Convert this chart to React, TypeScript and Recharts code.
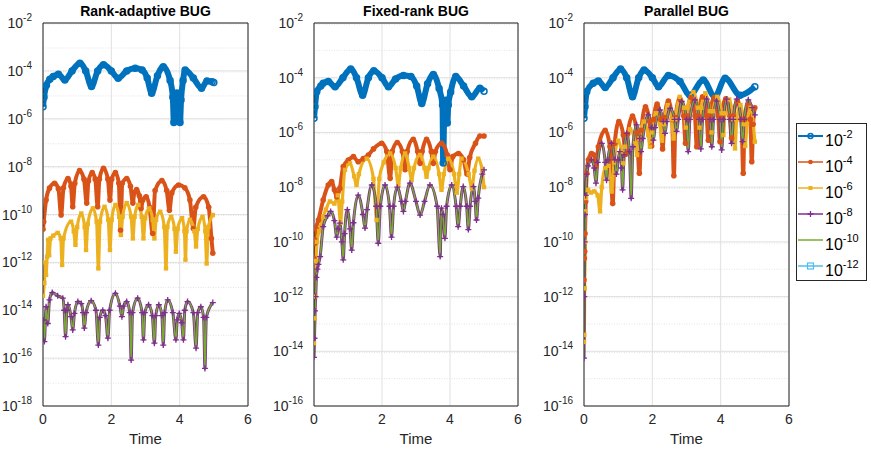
import { LineChart, Line, XAxis, YAxis, CartesianGrid, ReferenceLine } from 'recharts';

// [time, error] pairs
type Pt = [number, number];

const tolExponents = ['-2', '-4', '-6', '-8', '-10', '-12'];
const colors = ['#0072BD', '#D95319', '#EDB120', '#7E2F8E', '#77AC30', '#4DBEEE'];
const timeTicks = [0, 2, 4, 6];
const rankTicks = [1e-18, 1e-16, 1e-14, 1e-12, 1e-10, 1e-8, 1e-6, 1e-4, 1e-2];
const otherTicks = [1e-16, 1e-14, 1e-12, 1e-10, 1e-8, 1e-6, 1e-4, 1e-2];

// ---- Rank-adaptive BUG ----
const rankTol2: Pt[] = [
    [0, 3.2e-6], [0.03, 8e-6], [0.1, 2.5e-5], [0.2, 4.5e-5], [0.3, 5.8e-5], [0.45, 7.2e-5], [0.64, 4.2e-5],
    [0.85, 1e-4], [1.08, 2.1e-4], [1.25, 1e-4], [1.42, 2.2e-5], [1.6, 1e-4], [1.77, 1.8e-4], [2.0, 1e-4],
    [2.2, 4.9e-5], [2.45, 1e-4], [2.7, 1.3e-4], [2.9, 1.1e-4], [3.05, 5e-5], [3.18, 1.15e-5], [3.35, 6.3e-5],
    [3.52, 1.5e-4], [3.72, 4e-5], [3.8, 8e-6], [3.83, 7e-7], [3.86, 5e-6], [3.92, 1.2e-5], [3.97, 4e-6],
    [4.01, 7e-7], [4.04, 6e-6], [4.1, 4e-5], [4.16, 1.1e-4], [4.4, 5e-5], [4.64, 1.9e-5], [4.8, 3.8e-5],
    [4.95, 3.5e-5], [5.0, 3.3e-5],
];
const rankTol4: Pt[] = [
    [0, 2.4e-11], [0.02, 5e-11], [0.09, 4e-10], [0.19, 1.26e-9], [0.34, 2e-9], [0.45, 1.2e-9], [0.53, 9.5e-11],
    [0.6, 1.3e-9], [0.73, 3.2e-9], [0.82, 1.5e-9], [0.87, 2.1e-10], [0.93, 2e-9], [1.07, 6.8e-9], [1.2, 3e-9],
    [1.28, 3e-10], [1.33, 2.5e-9], [1.44, 5.6e-9], [1.53, 3e-9], [1.6, 2.1e-10], [1.65, 3e-9], [1.77, 8.5e-9],
    [1.9, 3e-9], [1.96, 4e-10], [2.01, 3e-9], [2.12, 5.6e-9], [2.22, 2e-9], [2.27, 2.2e-11], [2.32, 2e-9],
    [2.45, 3.2e-9], [2.56, 1.5e-9], [2.63, 3e-10], [2.67, 8e-10], [2.74, 1.1e-9], [2.82, 6e-10], [2.87, 1.8e-10],
    [2.92, 4e-10], [3.02, 5.5e-10], [3.12, 2e-10], [3.21, 1.6e-11], [3.28, 1e-9], [3.48, 2.6e-9], [3.62, 1e-9],
    [3.7, 1.5e-10], [3.77, 8e-10], [3.97, 1.7e-9], [4.15, 1.3e-9], [4.3, 4e-10], [4.4, 2.6e-11], [4.47, 2e-10],
    [4.7, 5.5e-10], [4.85, 2e-10], [4.93, 1e-11], [4.97, 2.4e-12],
];
const rankTol6: Pt[] = [
    [0, 4e-14], [0.04, 1.4e-13], [0.07, 1e-12], [0.09, 3e-13], [0.12, 1.7e-12], [0.15, 8.7e-12], [0.18, 2e-12],
    [0.22, 1e-11], [0.3, 1.3e-11], [0.43, 1.7e-11], [0.52, 1e-11], [0.56, 7.8e-13], [0.6, 1e-11], [0.82, 5e-11],
    [0.9, 2e-11], [0.95, 5.4e-12], [1.0, 3e-11], [1.12, 1.1e-10], [1.22, 3e-11], [1.26, 3.3e-12], [1.31, 4e-11],
    [1.46, 1.8e-10], [1.57, 5e-11], [1.62, 5.6e-13], [1.67, 5e-11], [1.8, 2.1e-10], [1.91, 6e-11], [1.96, 3.3e-12],
    [2.01, 6e-11], [2.12, 2.5e-10], [2.23, 8e-11], [2.28, 1.4e-11], [2.33, 8e-11], [2.45, 3e-10], [2.58, 8e-11],
    [2.63, 1e-11], [2.68, 8e-11], [2.79, 2.5e-10], [2.89, 8e-11], [2.94, 1e-11], [2.99, 7e-11], [3.11, 1.8e-10],
    [3.21, 6e-11], [3.26, 1e-11], [3.31, 6e-11], [3.43, 1.3e-10], [3.55, 3e-11], [3.6, 5.6e-13], [3.64, 3e-11],
    [3.75, 8e-11], [3.85, 2.5e-11], [3.89, 2.8e-12], [3.94, 2.5e-11], [4.07, 7e-11], [4.14, 2e-11], [4.17, 1.3e-12],
    [4.2, 2e-11], [4.3, 6e-11], [4.43, 2e-11], [4.48, 4.6e-12], [4.53, 2.5e-11], [4.67, 8e-11], [4.75, 2e-11],
    [4.79, 9e-13], [4.84, 3e-11], [4.97, 9.5e-11],
];
const rankTol8: Pt[] = [
    [0, 4e-15], [0.015, 3.9e-15], [0.04, 4.9e-16], [0.09, 1.4e-14], [0.14, 2.8e-15], [0.19, 2.7e-14], [0.27, 5.5e-14],
    [0.43, 4e-14], [0.58, 3.2e-14], [0.62, 1e-14], [0.66, 7.9e-16], [0.7, 1e-14], [0.73, 1.7e-14], [0.82, 5.4e-15],
    [0.87, 1.5e-15], [0.92, 7.4e-15], [1.02, 2.3e-14], [1.12, 1.9e-14], [1.17, 8e-15], [1.21, 1.8e-15], [1.26, 8e-15],
    [1.41, 2.5e-14], [1.55, 1e-14], [1.62, 3.5e-16], [1.66, 5e-15], [1.75, 1e-14], [1.83, 6e-15], [1.9, 6.8e-16],
    [1.95, 1e-14], [2.12, 5.1e-14], [2.25, 1.5e-14], [2.31, 5.4e-15], [2.36, 1.5e-14], [2.45, 2.3e-14], [2.54, 8e-15],
    [2.58, 8.3e-17], [2.62, 8e-15], [2.77, 3.2e-14], [2.9, 8e-15], [2.94, 5.8e-16], [2.98, 8e-15], [3.09, 1.7e-14],
    [3.2, 6e-15], [3.26, 4.2e-16], [3.3, 6e-15], [3.39, 1.7e-14], [3.48, 6e-15], [3.52, 3.5e-16], [3.56, 8e-15],
    [3.65, 2.7e-14], [3.8, 8e-15], [3.89, 5.8e-16], [3.93, 4e-15], [3.99, 7.4e-15], [4.06, 3e-15], [4.11, 5.8e-16],
    [4.15, 1e-14], [4.23, 2.3e-14], [4.4, 8e-15], [4.48, 2.6e-16], [4.53, 8e-15], [4.62, 1.4e-14], [4.7, 5e-15],
    [4.74, 3.7e-17], [4.78, 5e-15], [4.97, 2.1e-14],
];
const rankTol10 = rankTol8; // 1e-10 sits exactly on top of 1e-8

// ---- Fixed-rank BUG ----
const fixedTol2: Pt[] = [
    [0, 3.3e-6], [0.03, 8.7e-6], [0.08, 3.1e-5], [0.2, 5e-5], [0.27, 6.3e-5], [0.42, 7.2e-5], [0.62, 4.7e-5],
    [0.85, 1e-4], [1.08, 2.1e-4], [1.25, 1e-4], [1.43, 2.3e-5], [1.6, 1e-4], [1.76, 1.8e-4], [2.0, 1e-4],
    [2.19, 4.7e-5], [2.4, 9e-5], [2.63, 1.2e-4], [2.85, 1.1e-4], [3.02, 5e-5], [3.17, 1.15e-5], [3.34, 6e-5],
    [3.51, 1.3e-4], [3.68, 4e-5], [3.78, 1e-5], [3.8, 7.6e-8], [3.83, 5e-6], [3.88, 1.5e-5], [3.92, 2.2e-6],
    [3.95, 1e-5], [4.02, 3e-5], [4.17, 1.1e-4], [4.4, 5e-5], [4.64, 2e-5], [4.88, 4.1e-5], [5.0, 3.2e-5],
];
const fixedTol4: Pt[] = [
    [0, 2.5e-11], [0.02, 1.2e-10], [0.03, 9e-11], [0.06, 3e-10], [0.13, 6.3e-10], [0.27, 3.4e-9], [0.42, 1.2e-8],
    [0.52, 1.6e-8], [0.6, 8e-9], [0.67, 4.5e-9], [0.76, 9e-9], [0.86, 5.6e-8], [1.01, 9.8e-8], [1.16, 1.3e-7],
    [1.3, 8.5e-8], [1.45, 1.1e-7], [1.6, 1.5e-7], [1.75, 2.5e-7], [1.99, 4e-7], [2.14, 2e-7], [2.24, 2.1e-8],
    [2.3, 2e-7], [2.45, 4.3e-7], [2.6, 2e-7], [2.68, 4.3e-8], [2.74, 2e-7], [2.92, 5.6e-7], [3.05, 2e-7],
    [3.12, 7.4e-8], [3.18, 2e-7], [3.31, 5.6e-7], [3.45, 2e-7], [3.51, 7.4e-8], [3.57, 2e-7], [3.75, 4e-7],
    [3.92, 1.5e-7], [4.0, 4.3e-8], [4.08, 1.3e-7], [4.25, 1.7e-7], [4.4, 1e-7], [4.5, 3e-8], [4.58, 1.2e-7],
    [4.75, 4e-7], [4.88, 7.4e-7], [5.0, 7.4e-7],
];
const fixedTol6: Pt[] = [
    [0, 2e-14], [0.02, 1.6e-13], [0.04, 1e-12], [0.06, 2e-11], [0.09, 1e-10], [0.15, 2.5e-10], [0.27, 8.3e-10],
    [0.35, 1.5e-9], [0.47, 3e-9], [0.6, 2.5e-9], [0.7, 5e-9], [0.78, 5e-10], [0.83, 3e-9], [0.91, 4.3e-8],
    [1.06, 7.4e-8], [1.18, 2.5e-8], [1.25, 1.2e-8], [1.32, 3e-8], [1.55, 1.1e-7], [1.75, 2e-8], [1.84, 6.3e-10],
    [1.92, 2e-8], [2.05, 8e-8], [2.24, 1.7e-7], [2.4, 5e-8], [2.48, 1.2e-8], [2.55, 5e-8], [2.68, 1.7e-7],
    [2.8, 5e-8], [2.87, 1.8e-8], [2.94, 5e-8], [3.12, 1.5e-7], [3.25, 5e-8], [3.31, 2.4e-8], [3.37, 5e-8],
    [3.51, 1.3e-7], [3.68, 3e-8], [3.75, 8e-9], [3.82, 3e-8], [3.95, 1.1e-7], [4.12, 3e-8], [4.2, 6.3e-9],
    [4.27, 3e-8], [4.34, 1.1e-7], [4.55, 3e-8], [4.64, 9e-9], [4.72, 4e-8], [4.83, 1.1e-7], [4.95, 4e-8], [5.0, 1e-8],
];
const fixedTol8: Pt[] = [
    [0, 6e-15], [0.015, 3e-14], [0.03, 3e-13], [0.05, 1e-12], [0.07, 5e-12], [0.1, 1e-11], [0.13, 1.5e-11],
    [0.18, 2.9e-11], [0.27, 3.6e-10], [0.4, 9e-10], [0.49, 1.3e-9], [0.6, 6e-10], [0.67, 1.5e-10], [0.71, 3e-10],
    [0.76, 4.8e-10], [0.82, 1e-10], [0.86, 2.2e-11], [0.9, 2e-10], [0.98, 1.5e-9], [1.06, 3e-10], [1.11, 5e-11],
    [1.16, 5e-10], [1.3, 5.1e-9], [1.44, 1e-9], [1.5, 3.2e-10], [1.56, 1.5e-9], [1.7, 1.2e-8], [1.83, 2e-9],
    [1.89, 8.9e-11], [1.95, 2e-9], [2.09, 1.2e-8], [2.22, 2e-9], [2.28, 1.5e-10], [2.34, 2e-9], [2.45, 1e-8],
    [2.57, 3e-9], [2.63, 1.3e-9], [2.69, 3e-9], [2.82, 1.4e-8], [3.0, 3e-9], [3.12, 9.5e-10], [3.25, 3e-9],
    [3.41, 1.2e-8], [3.62, 2e-9], [3.71, 2.9e-11], [3.75, 1.7e-9], [3.79, 1e-9], [3.85, 1.35e-10], [3.9, 2e-9],
    [4.05, 1.2e-8], [4.18, 2e-9], [4.24, 3.6e-10], [4.3, 2e-9], [4.39, 1.05e-8], [4.49, 2e-9], [4.54, 2.8e-10],
    [4.59, 2e-9], [4.69, 1.05e-8], [4.74, 3e-9], [4.78, 6.3e-10], [4.83, 4e-9], [4.95, 3e-8], [5.0, 4.3e-8],
];
const fixedTol10 = fixedTol8;

// ---- Parallel BUG ----
const parTol2: Pt[] = [
    [0, 3.3e-6], [0.03, 8.7e-6], [0.08, 3.1e-5], [0.27, 6.3e-5], [0.42, 7.6e-5], [0.62, 4.4e-5], [0.85, 1e-4],
    [1.07, 2.1e-4], [1.25, 1e-4], [1.42, 2e-5], [1.6, 1e-4], [1.76, 1.9e-4], [2.0, 1e-4], [2.18, 4.7e-5],
    [2.47, 1.2e-4], [2.81, 7.2e-5], [3.1, 2.3e-5], [3.49, 8.3e-5], [3.83, 2e-5], [4.13, 9.5e-5], [4.57, 2.3e-5],
    [5.0, 4.7e-5],
];
const parTol4: Pt[] = [
    [0, 4e-12], [0.01, 2.5e-11], [0.02, 4.4e-11], [0.03, 2e-10], [0.05, 3e-9], [0.08, 3.2e-8], [0.13, 1e-7],
    [0.22, 1.7e-7], [0.3, 1.5e-7], [0.36, 6e-8], [0.42, 3e-7], [0.62, 1.2e-6], [0.76, 3e-7], [0.84, 2.5e-9],
    [0.9, 4e-7], [1.02, 2.5e-6], [1.15, 8e-7], [1.22, 1.6e-7], [1.28, 9e-7], [1.42, 4e-6], [1.55, 1e-6],
    [1.62, 3.2e-8], [1.68, 1.2e-6], [1.8, 8.7e-6], [1.92, 2.5e-6], [1.98, 3.2e-7], [2.04, 3e-6], [2.14, 1.1e-5],
    [2.25, 3e-6], [2.3, 2.5e-7], [2.36, 3.5e-6], [2.47, 1.4e-5], [2.58, 3e-6], [2.63, 2.6e-8], [2.68, 3.5e-6],
    [2.8, 1.7e-5], [2.92, 4e-6], [2.97, 4e-7], [3.02, 4e-6], [3.13, 1.9e-5], [3.25, 4e-6], [3.3, 3e-7],
    [3.35, 4e-6], [3.47, 2e-5], [3.59, 4e-6], [3.64, 5.2e-7], [3.69, 4e-6], [3.81, 1.9e-5], [3.93, 4e-6],
    [3.98, 4.6e-7], [4.03, 4e-6], [4.15, 1.7e-5], [4.27, 4e-6], [4.32, 6.3e-7], [4.37, 4e-6], [4.49, 1.4e-5],
    [4.61, 3e-6], [4.66, 3.2e-8], [4.7, 3e-6], [4.8, 1e-5], [4.87, 3e-6], [4.91, 8.5e-8], [4.95, 2e-6], [5.0, 7.9e-6],
];
const parTol6: Pt[] = [
    [0, 2.2e-14], [0.01, 4e-14], [0.02, 2e-12], [0.03, 1e-10], [0.04, 1.3e-9], [0.06, 4e-9], [0.12, 8e-9],
    [0.2, 6.3e-9], [0.3, 7e-9], [0.4, 5e-9], [0.47, 1.3e-9], [0.52, 1e-8], [0.62, 5e-8], [0.72, 6e-8],
    [0.81, 6.9e-9], [0.88, 8e-8], [1.0, 5e-7], [1.1, 2e-7], [1.15, 7.4e-8], [1.2, 3e-7], [1.35, 1.3e-6],
    [1.5, 4e-7], [1.55, 1.5e-7], [1.62, 6e-7], [1.75, 2.5e-6], [1.88, 8e-7], [1.93, 3e-7], [1.98, 1e-6],
    [2.1, 5e-6], [2.22, 2e-6], [2.28, 5e-7], [2.34, 2e-6], [2.45, 1e-5], [2.57, 3e-6], [2.62, 6e-7], [2.68, 3e-6],
    [2.8, 2e-5], [2.93, 8e-6], [2.98, 1.5e-6], [3.03, 8e-6], [3.2, 3e-5], [3.33, 8e-6], [3.38, 1.5e-6],
    [3.43, 8e-6], [3.55, 2.7e-5], [3.68, 6e-6], [3.73, 1e-6], [3.78, 6e-6], [3.9, 2e-5], [4.03, 5e-6],
    [4.08, 8e-7], [4.13, 5e-6], [4.25, 1.6e-5], [4.37, 3e-6], [4.42, 2.6e-7], [4.47, 3e-6], [4.58, 1e-5],
    [4.68, 2e-6], [4.72, 3.2e-7], [4.77, 2e-6], [4.88, 8e-6], [5.0, 4.6e-7],
];
const parTol8: Pt[] = [
    [0, 5.6e-15], [0.01, 1e-12], [0.02, 1e-10], [0.03, 1e-9], [0.05, 5e-9], [0.08, 3e-8], [0.12, 6e-8],
    [0.22, 1e-7], [0.3, 5e-8], [0.35, 1.4e-8], [0.4, 8e-8], [0.52, 4e-7], [0.62, 8e-8], [0.66, 1.8e-8],
    [0.7, 1e-7], [0.81, 4e-7], [0.9, 1e-7], [0.95, 3e-8], [1.0, 1e-7], [1.05, 2e-7], [1.1, 5e-8], [1.13, 8e-9],
    [1.17, 1.5e-7], [1.25, 9.3e-7], [1.33, 2e-7], [1.38, 3.9e-9], [1.43, 3e-7], [1.54, 1.9e-6], [1.63, 6e-7],
    [1.67, 2e-7], [1.72, 6e-7], [1.88, 4.4e-6], [1.98, 1.5e-6], [2.03, 5.2e-7], [2.08, 1.5e-6], [2.22, 6.6e-6],
    [2.32, 2.5e-6], [2.37, 9.3e-7], [2.42, 2.5e-6], [2.52, 7.6e-6], [2.65, 3e-6], [2.71, 1.1e-6], [2.76, 3e-6],
    [2.86, 1.35e-5], [3.0, 3e-6], [3.05, 2e-7], [3.1, 3e-6], [3.25, 1.55e-5], [3.37, 3e-6], [3.42, 2.5e-7],
    [3.47, 3e-6], [3.59, 1.65e-5], [3.69, 3e-6], [3.74, 3e-7], [3.79, 3e-6], [3.88, 1.4e-5], [3.98, 3e-6],
    [4.03, 2.3e-7], [4.08, 3e-6], [4.18, 1.65e-5], [4.27, 3e-6], [4.32, 4e-7], [4.37, 3e-6], [4.47, 1.65e-5],
    [4.59, 3e-6], [4.64, 4.6e-7], [4.69, 3e-6], [4.81, 1.55e-5], [4.92, 8e-6], [5.0, 4.4e-6],
];
const parTol10 = parTol8;

const FONT = '"Liberation Sans", Arial, Helvetica, sans-serif';
const AXIS = '#262626';

type MarkerKind = 'circle' | 'dot' | 'square' | 'plus' | 'none';

const seriesStyle: { width: number; marker: MarkerKind }[] = [
    { width: 6, marker: 'circle' },
    { width: 4, marker: 'dot' },
    { width: 3.2, marker: 'square' },
    { width: 3, marker: 'plus' },
    { width: 1.5, marker: 'none' },
];

const toRows = (pts: Pt[]) => pts.map(([t, v]) => ({ t, v }));

const renderMarker = (kind: MarkerKind, color: string) => (p: any) => {
    const { cx, cy, index } = p;
    const key = `m-${index}`;
    if (kind === 'none' || cx == null || cy == null) return <g key={key} />;
    if (kind === 'circle')
        return <circle key={key} cx={cx} cy={cy} r={3} fill="none" stroke={color} strokeWidth={1.5} />;
    if (kind === 'dot') return <circle key={key} cx={cx} cy={cy} r={2.8} fill={color} />;
    if (kind === 'square')
        return <rect key={key} x={cx - 2.2} y={cy - 2.2} width={4.4} height={4.4} fill={color} />;
    return (
        <path key={key} d={`M${cx - 3},${cy}H${cx + 3}M${cx},${cy - 3}V${cy + 3}`} stroke={color} strokeWidth={1.3} />
    );
};

// log-axis minor grid: 2..9 x 10^k plus the unlabelled decades
const minorValues = (lo: number, hi: number, majors: number[]) => {
    const out: number[] = [];
    for (let e = Math.round(Math.log10(lo)); e < Math.round(Math.log10(hi)); e++) {
        for (let m = 1; m < 10; m++) {
            const v = m * Math.pow(10, e);
            if (!majors.some((t) => Math.abs(t - v) / t < 1e-6)) out.push(v);
        }
    }
    return out;
};

const PowTick = (props: any) => {
    const { x, y, payload } = props;
    const exp = Math.round(Math.log10(payload.value));
    return (
        <text x={x - 3} y={y + 5} textAnchor="end" fill={AXIS} fontSize={14} fontFamily={FONT}>
            <tspan>10</tspan>
            <tspan fontSize={10} dy={-7}>
                {exp}
            </tspan>
        </text>
    );
};

interface PanelProps {
    left: number;
    width: number;
    yWidth: number;
    title: string;
    yTicks: number[];
    series: Pt[][];
}

const Panel = ({ left, width, yWidth, title, yTicks, series }: PanelProps) => {
    const yMin = yTicks[0];
    const yMax = yTicks[yTicks.length - 1];
    const minor = minorValues(yMin, yMax, yTicks);
    const plotLeft = yWidth;
    const plotRight = width - 12;
    return (
        <div style={{ position: 'absolute', left, top: 0, width, height: 450 }}>
            <div
                style={{
                    position: 'absolute',
                    left: plotLeft,
                    width: plotRight - plotLeft,
                    top: 3,
                    textAlign: 'center',
                    fontFamily: FONT,
                    fontWeight: 'bold',
                    fontSize: 14,
                    color: '#000',
                    whiteSpace: 'nowrap',
                }}
            >
                {title}
            </div>
            <LineChart width={width} height={450} margin={{ top: 23, right: 12, bottom: 0, left: 0 }}>
                <CartesianGrid horizontalValues={minor} vertical={false} stroke="#e4e4e4" strokeDasharray="1 1.5" />
                <CartesianGrid horizontalValues={yTicks} verticalValues={timeTicks} stroke="#e0e0e0" />
                <XAxis
                    type="number"
                    dataKey="t"
                    domain={[0, 6]}
                    ticks={timeTicks}
                    allowDataOverflow
                    height={44}
                    stroke={AXIS}
                    tickLine={false}
                    tickMargin={2}
                    tick={{ fontSize: 14, fill: AXIS, fontFamily: FONT }}
                    label={{ value: 'Time', position: 'insideBottom', offset: 6, fontSize: 15, fill: AXIS, fontFamily: FONT }}
                />
                <YAxis
                    type="number"
                    scale="log"
                    domain={[yMin, yMax]}
                    ticks={yTicks}
                    allowDataOverflow
                    width={yWidth}
                    stroke={AXIS}
                    tickLine={false}
                    tick={<PowTick />}
                />
                <ReferenceLine x={6} stroke={AXIS} ifOverflow="visible" />
                <ReferenceLine y={yMax} stroke={AXIS} ifOverflow="visible" />
                {series.map((pts, i) => (
                    <Line
                        key={`s-${i}`}
                        data={toRows(pts)}
                        dataKey="v"
                        type="monotone"
                        stroke={colors[i]}
                        strokeWidth={seriesStyle[i].width}
                        strokeLinejoin="round"
                        dot={renderMarker(seriesStyle[i].marker, colors[i])}
                        activeDot={false}
                        isAnimationActive={false}
                    />
                ))}
            </LineChart>
        </div>
    );
};

const LegendBox = () => (
    <div
        style={{
            position: 'absolute',
            left: 796,
            top: 123,
            width: 71,
            height: 158,
            border: `1px solid ${AXIS}`,
            boxSizing: 'border-box',
            background: '#fff',
        }}
    >
        <svg width={69} height={156}>
            {tolExponents.map((e, i) => {
                const y = 12 + i * 26;
                const c = colors[i];
                const kind: MarkerKind = i === 5 ? 'square' : (seriesStyle[i]?.marker ?? 'none');
                return (
                    <g key={e}>
                        <line x1={1} x2={26} y1={y} y2={y} stroke={c} strokeWidth={i === 0 ? 2 : 1.5} />
                        {kind === 'circle' && <circle cx={13.5} cy={y} r={2.5} fill="none" stroke={c} strokeWidth={1.5} />}
                        {kind === 'dot' && <circle cx={13.5} cy={y} r={2.3} fill={c} />}
                        {kind === 'square' && i === 2 && <rect x={11.5} y={y - 2} width={4} height={4} fill={c} />}
                        {kind === 'square' && i === 5 && (
                            <rect x={10.5} y={y - 3} width={6} height={6} fill="none" stroke={c} strokeWidth={1.2} />
                        )}
                        {kind === 'plus' && (
                            <path d={`M${10.5},${y}H${16.5}M13.5,${y - 3}V${y + 3}`} stroke={c} strokeWidth={1.3} />
                        )}
                        <text x={28} y={y + 10} fill="#000" fontSize={16} fontFamily={FONT}>
                            <tspan>10</tspan>
                            <tspan fontSize={11} dy={-8}>
                                {e}
                            </tspan>
                        </text>
                    </g>
                );
            })}
        </svg>
    </div>
);

export default function App() {
    return (
        <div style={{ position: 'absolute', left: 0, top: 0, width: 871, height: 450, background: '#fff', overflow: 'hidden' }}>
            <Panel
                left={0}
                width={260}
                yWidth={43}
                title="Rank-adaptive BUG"
                yTicks={rankTicks}
                series={[rankTol2, rankTol4, rankTol6, rankTol8, rankTol10]}
            />
            <Panel
                left={270}
                width={260}
                yWidth={44}
                title="Fixed-rank BUG"
                yTicks={otherTicks}
                series={[fixedTol2, fixedTol4, fixedTol6, fixedTol8, fixedTol10]}
            />
            <Panel
                left={540}
                width={261}
                yWidth={44}
                title="Parallel BUG"
                yTicks={otherTicks}
                series={[parTol2, parTol4, parTol6, parTol8, parTol10]}
            />
            <LegendBox />
        </div>
    );
}
